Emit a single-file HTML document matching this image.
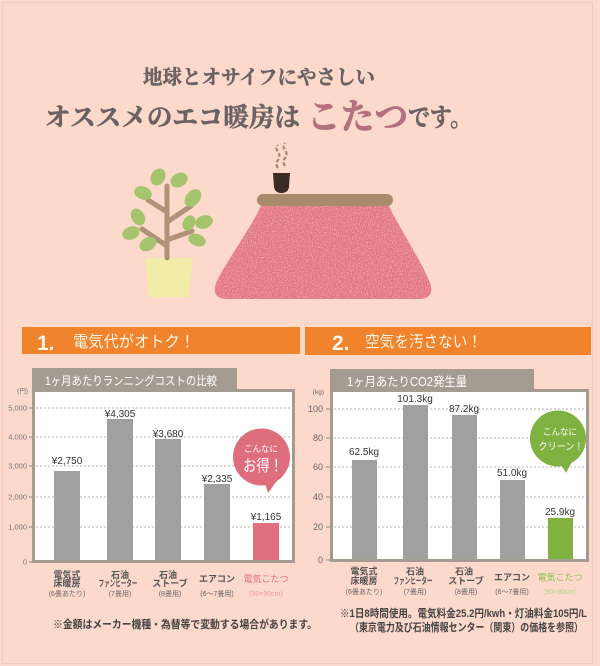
<!DOCTYPE html>
<html><head><meta charset="utf-8">
<style>
html,body{margin:0;padding:0;background:#fdd9cb;width:600px;height:666px;overflow:hidden}
svg{display:block}
.j{font-family:"Liberation Sans","Noto Sans CJK JP",sans-serif;}
.m{font-family:"Liberation Serif","Noto Serif CJK SC",serif;font-weight:700;}
.n{font-family:"Liberation Sans",sans-serif;}
</style></head><body>
<svg width="600" height="666" viewBox="0 0 600 666" xmlns="http://www.w3.org/2000/svg">
<defs>
<filter id="tex" x="0" y="0" width="100%" height="100%">
<feTurbulence type="fractalNoise" baseFrequency="0.8" numOctaves="2" seed="4" result="n"/>
<feColorMatrix in="n" type="matrix" values="0 0 0 0 0.95  0 0 0 0 0.55  0 0 0 0 0.6  3 0 0 0 -1.3" result="c"/>
<feComposite in="c" in2="SourceGraphic" operator="in"/>
</filter>
<filter id="tex2" x="0" y="0" width="100%" height="100%">
<feTurbulence type="fractalNoise" baseFrequency="1.1" numOctaves="1" seed="9" result="n"/>
<feColorMatrix in="n" type="matrix" values="0 0 0 0 0.8  0 0 0 0 0.25  0 0 0 0 0.3  0 3.2 0 0 -1.5" result="c"/>
<feComposite in="c" in2="SourceGraphic" operator="in"/>
</filter>
</defs>
<rect width="600" height="666" fill="#fdd9cb"/>
<rect x="2.5" y="2.5" width="590" height="661" fill="none" stroke="#f1cbbd" stroke-width="1"/>

<!-- Title -->
<text class="m" x="259" y="84" font-size="20" fill="#6b6363" stroke="#6b6363" stroke-width="0.5" text-anchor="middle" textLength="232" lengthAdjust="spacingAndGlyphs">地球とオサイフにやさしい</text>
<text class="m" x="45" y="126" font-size="25.5" fill="#6b6363" stroke="#6b6363" stroke-width="0.6" textLength="255" lengthAdjust="spacingAndGlyphs">オススメのエコ暖房は</text>
<text class="m" x="307" y="129" font-size="35" fill="#b5707f" stroke="#b5707f" stroke-width="0.8" textLength="101" lengthAdjust="spacingAndGlyphs">こたつ</text>
<text class="m" x="408" y="126" font-size="25" fill="#6b6363" stroke="#6b6363" stroke-width="0.6" textLength="64" lengthAdjust="spacingAndGlyphs">です。</text>

<!-- Plant -->
<g>
<path d="M145 258 L193 258 L189 297 L149 297 Z" fill="#f1eca8"/>
<g stroke="#b39178" stroke-width="5" stroke-linecap="round" fill="none">
<line x1="167" y1="258" x2="167" y2="186"/>
<line x1="167" y1="246" x2="142" y2="229"/>
<line x1="167" y1="240" x2="192" y2="231"/>
<line x1="167" y1="212" x2="148" y2="200"/>
<line x1="167" y1="222" x2="191" y2="206"/>
</g>
<g fill="#a4c46d">
<ellipse cx="158" cy="177" rx="9" ry="7" transform="rotate(-60 158 177)"/>
<ellipse cx="179" cy="180" rx="9" ry="7" transform="rotate(-30 179 180)"/>
<ellipse cx="143" cy="193" rx="9" ry="6.5" transform="rotate(20 143 193)"/>
<ellipse cx="193" cy="198" rx="10" ry="7" transform="rotate(-50 193 198)"/>
<ellipse cx="138" cy="217" rx="9" ry="6.5" transform="rotate(60 138 217)"/>
<ellipse cx="131" cy="233" rx="9" ry="6.5" transform="rotate(-20 131 233)"/>
<ellipse cx="189" cy="223" rx="8" ry="6" transform="rotate(-60 189 223)"/>
<ellipse cx="204" cy="222" rx="9" ry="6.5" transform="rotate(-20 204 222)"/>
<ellipse cx="148" cy="244" rx="9" ry="6.5" transform="rotate(-30 148 244)"/>
<ellipse cx="197" cy="240" rx="9" ry="6" transform="rotate(20 197 240)"/>
</g>
</g>

<!-- Kotatsu -->
<g>
<path d="M262 204 L388 204 C400 230 420 258 430 283 Q 435 298 420 299 L 226 299 Q 211 298 216 283 C 228 258 250 230 262 204 Z" fill="#e1747c"/>
<path d="M262 204 L388 204 C400 230 420 258 430 283 Q 435 298 420 299 L 226 299 Q 211 298 216 283 C 228 258 250 230 262 204 Z" fill="#e1747c" filter="url(#tex)" opacity="0.7"/>
<path d="M262 204 L388 204 C400 230 420 258 430 283 Q 435 298 420 299 L 226 299 Q 211 298 216 283 C 228 258 250 230 262 204 Z" fill="#e1747c" filter="url(#tex2)" opacity="0.6"/>
<rect x="257" y="194" width="136" height="12" rx="6" fill="#a88a6c"/>
<path d="M273 173 L290 173 L289 187 Q 288 193 281.5 193 Q 275 193 274 187 Z" fill="#3b2b25"/>
<path d="M278 168 q -3 -4 0 -8 q 3 -4 0 -8 q -3 -4 0 -7" stroke="#9d8b6b" stroke-width="2.2" stroke-dasharray="4 2" fill="none"/>
<path d="M285 166 q -3 -4 0 -8 q 3 -4 0 -8 q -3 -4 0 -7" stroke="#9d8b6b" stroke-width="2.2" stroke-dasharray="4 2" fill="none"/>
</g>

<!-- Section headers -->
<rect x="22" y="327" width="278" height="27" fill="#f0832b"/>
<rect x="305" y="327" width="286" height="28" fill="#f0832b"/>
<text class="n" x="37" y="350" font-size="21" font-weight="700" fill="#fff6e8">1.</text>
<text class="j" x="73" y="347" font-size="16" fill="#fff6e8" textLength="122" lengthAdjust="spacingAndGlyphs">電気代がオトク！</text>
<text class="n" x="332" y="350" font-size="21" font-weight="700" fill="#fff6e8">2.</text>
<text class="j" x="365" y="347" font-size="16" fill="#fff6e8" textLength="117" lengthAdjust="spacingAndGlyphs">空気を汚さない！</text>

<!-- Left chart -->
<rect x="32" y="368" width="205" height="23" fill="#a49c90"/>
<rect x="33.5" y="390.5" width="260" height="171" fill="#ffffff" stroke="#a49c90" stroke-width="3"/>
<text class="j" x="45" y="385" font-size="12" fill="#ffffff" textLength="172" lengthAdjust="spacingAndGlyphs">1ヶ月あたりランニングコストの比較</text>
<g stroke="#b9b2aa" stroke-width="1" stroke-dasharray="2 2">
<line x1="36" y1="408" x2="292" y2="408"/>
<line x1="36" y1="437" x2="292" y2="437"/>
<line x1="36" y1="466" x2="292" y2="466"/>
<line x1="36" y1="497" x2="292" y2="497"/>
<line x1="36" y1="527" x2="292" y2="527"/>
</g>
<g stroke="#888" stroke-width="1">
<line x1="29" y1="408" x2="32" y2="408"/><line x1="29" y1="437" x2="32" y2="437"/>
<line x1="29" y1="466" x2="32" y2="466"/><line x1="29" y1="497" x2="32" y2="497"/>
<line x1="29" y1="527" x2="32" y2="527"/><line x1="29" y1="562" x2="32" y2="562"/>
</g>
<g class="n" font-size="7.5" fill="#777" text-anchor="end">
<text class="j" x="28" y="393" font-size="6.5">(円)</text>
<text x="27" y="410.5">5,000</text>
<text x="27" y="439.5">4,000</text>
<text x="27" y="468.5">3,000</text>
<text x="27" y="499.5">2,000</text>
<text x="27" y="529.5">1,000</text>
<text x="27" y="564.5">0</text>
</g>
<g fill="#a0a0a0">
<rect x="54" y="471" width="26" height="89"/>
<rect x="107" y="419" width="26" height="141"/>
<rect x="155" y="439" width="26" height="121"/>
<rect x="204" y="484" width="26" height="76"/>
</g>
<rect x="253" y="523" width="26" height="37" fill="#e0707e"/>
<g class="n" font-size="10" fill="#333" text-anchor="middle">
<text x="67" y="464">¥2,750</text>
<text x="120" y="417">¥4,305</text>
<text x="168" y="437">¥3,680</text>
<text x="217" y="482">¥2,335</text>
<text x="266" y="520">¥1,165</text>
</g>
<!-- pink bubble -->
<circle cx="261.5" cy="457" r="28.5" fill="#de6e7c"/>
<path d="M264 480 L268 493 L279 478 Z" fill="#de6e7c"/>
<text class="j" x="261" y="452" font-size="9" fill="#fff" text-anchor="middle" textLength="34" lengthAdjust="spacingAndGlyphs">こんなに</text>
<text class="j" x="263" y="471" font-size="16" fill="#fff" text-anchor="middle" textLength="40" lengthAdjust="spacingAndGlyphs">お得！</text>
<!-- left x labels -->
<g class="j" font-size="9" fill="#555" text-anchor="middle" font-weight="700">
<text x="67" y="578">電気式</text>
<text x="67" y="586.5">床暖房</text>
<text x="120" y="578">石油</text>
<text x="118" y="586.5" textLength="39" lengthAdjust="spacingAndGlyphs">ファンヒーター</text>
<text x="168" y="578">石油</text>
<text x="170" y="586.5">ストーブ</text>
<text x="217" y="582">エアコン</text>
<text x="266" y="582" fill="#e0707e" font-weight="400">電気こたつ</text>
</g>
<g class="j" font-size="7" fill="#666" text-anchor="middle">
<text x="67" y="596">(6畳あたり)</text>
<text x="120" y="596">(7畳用)</text>
<text x="170" y="596">(8畳用)</text>
<text x="217" y="596">(6〜7畳用)</text>
<text x="266" y="596" fill="#eba0a8">(90×90cm)</text>
</g>
<text class="j" x="53" y="628" font-size="11" fill="#444" font-weight="700" textLength="264" lengthAdjust="spacingAndGlyphs">※金額はメーカー機種・為替等で変動する場合があります。</text>

<!-- Right chart -->
<rect x="330" y="369" width="204" height="22" fill="#a49c90"/>
<rect x="331.5" y="390.5" width="256" height="170" fill="#ffffff" stroke="#a49c90" stroke-width="3"/>
<text class="j" x="347" y="386" font-size="12.5" fill="#ffffff" textLength="120" lengthAdjust="spacingAndGlyphs">1ヶ月あたりCO2発生量</text>
<g stroke="#b9b2aa" stroke-width="1" stroke-dasharray="2 2">
<line x1="334" y1="409" x2="586" y2="409"/>
<line x1="334" y1="438" x2="586" y2="438"/>
<line x1="334" y1="467" x2="586" y2="467"/>
<line x1="334" y1="497" x2="586" y2="497"/>
<line x1="334" y1="527" x2="586" y2="527"/>
</g>
<g stroke="#888" stroke-width="1">
<line x1="326" y1="409" x2="330" y2="409"/><line x1="326" y1="438" x2="330" y2="438"/>
<line x1="326" y1="467" x2="330" y2="467"/><line x1="326" y1="497" x2="330" y2="497"/>
<line x1="326" y1="527" x2="330" y2="527"/><line x1="326" y1="560" x2="330" y2="560"/>
</g>
<g class="n" font-size="9" fill="#666" text-anchor="end">
<text class="j" x="324" y="394" font-size="6.5">(kg)</text>
<text x="323" y="412">100</text>
<text x="323" y="441">80</text>
<text x="323" y="470">60</text>
<text x="323" y="500">40</text>
<text x="323" y="530">20</text>
<text x="323" y="563">0</text>
</g>
<g fill="#a0a0a0">
<rect x="352" y="460" width="25" height="99"/>
<rect x="403" y="405" width="25" height="154"/>
<rect x="452" y="415" width="25" height="144"/>
<rect x="500" y="480" width="25" height="79"/>
</g>
<rect x="548" y="518" width="25" height="41" fill="#7fb241"/>
<g class="n" font-size="10" fill="#333" text-anchor="middle">
<text x="364" y="455">62.5kg</text>
<text x="415" y="402">101.3kg</text>
<text x="464" y="412">87.2kg</text>
<text x="512" y="476">51.0kg</text>
<text x="560" y="515">25.9kg</text>
</g>
<!-- green bubble -->
<circle cx="558" cy="438.5" r="28" fill="#7fb241"/>
<path d="M559 461 L566 473 L574 458 Z" fill="#7fb241"/>
<text class="j" x="560" y="435" font-size="9" fill="#fff" text-anchor="middle" textLength="34" lengthAdjust="spacingAndGlyphs">こんなに</text>
<text class="j" x="561" y="450" font-size="10" fill="#fff" text-anchor="middle" textLength="45" lengthAdjust="spacingAndGlyphs">クリーン！</text>
<g class="j" font-size="9" fill="#555" text-anchor="middle" font-weight="700">
<text x="364" y="574.5">電気式</text>
<text x="364" y="584">床暖房</text>
<text x="415" y="574.5">石油</text>
<text x="413" y="584" textLength="39" lengthAdjust="spacingAndGlyphs">ファンヒーター</text>
<text x="464" y="574.5">石油</text>
<text x="466" y="584">ストーブ</text>
<text x="512" y="580.5">エアコン</text>
<text x="560" y="580.5" fill="#8bbd4f" font-weight="400">電気こたつ</text>
</g>
<g class="j" font-size="7" fill="#666" text-anchor="middle">
<text x="364" y="594">(6畳あたり)</text>
<text x="415" y="594">(7畳用)</text>
<text x="466" y="594">(8畳用)</text>
<text x="512" y="594">(6〜7畳用)</text>
<text x="560" y="594" fill="#b5d68a">(90×90cm)</text>
</g>
<text class="j" x="340" y="617" font-size="11" fill="#444" font-weight="700" textLength="247" lengthAdjust="spacingAndGlyphs">※1日8時間使用。電気料金25.2円/kwh・灯油料金105円/L</text>
<text class="j" x="350" y="631" font-size="11" fill="#444" font-weight="700" textLength="233" lengthAdjust="spacingAndGlyphs">（東京電力及び石油情報センター（関東）の価格を参照）</text>
</svg>
</body></html>
